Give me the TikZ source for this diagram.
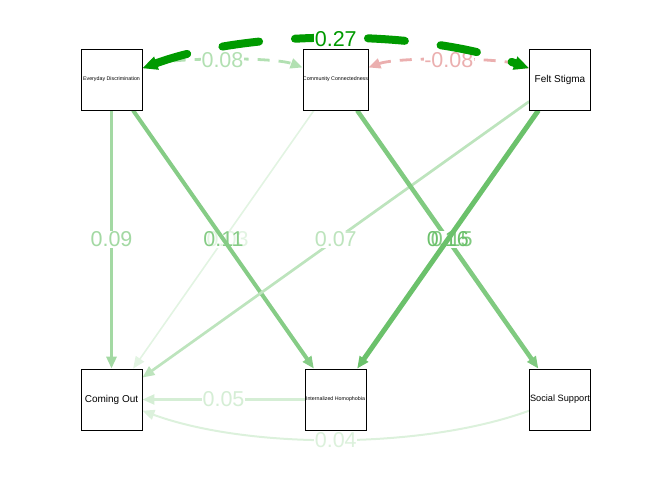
\documentclass[tikz,border=0pt]{standalone}
\usepackage{fontspec}
\setmainfont{Liberation Sans}
\usetikzlibrary{arrows.meta}
\definecolor{c27}{HTML}{009A00}
\definecolor{c16}{HTML}{6BC16B}
\definecolor{c15}{HTML}{80CA80}
\definecolor{c11}{HTML}{86CC86}
\definecolor{c09}{HTML}{A3D9A3}
\definecolor{c08}{HTML}{B2E0B2}
\definecolor{c07}{HTML}{BDE4BD}
\definecolor{c05}{HTML}{D5EED5}
\definecolor{c04}{HTML}{DCF1DC}
\definecolor{c03}{HTML}{E2F4E2}
\definecolor{cneg}{HTML}{EBAFAF}
\begin{document}
\begin{tikzpicture}[x=1bp,y=-1bp,
  box/.style={draw=black, line width=0.8bp, fill=white, minimum size=61bp, inner sep=0pt, align=center},
  smalltxt/.style={font=\fontsize{5.3bp}{6bp}\selectfont},
  bigtxt/.style={font=\fontsize{10bp}{12bp}\selectfont},
  midtxt/.style={font=\fontsize{9.2bp}{11bp}\selectfont},
  edge/.style={-{Triangle[length=12bp,width=10bp]}},
  biedge/.style={{Triangle[length=12bp,width=10bp]}-{Triangle[length=12bp,width=10bp]}},
  lbl/.style={font=\fontsize{21.5bp}{21.5bp}\selectfont, fill=white, inner sep=0.5bp},
  lblnf/.style={font=\fontsize{21.5bp}{21.5bp}\selectfont, inner sep=0.5bp}]
\useasboundingbox (0,0) rectangle (672,480);
% nodes (drawn first for names; redrawn on top later)
\node[box, smalltxt] (ED) at (111.5,79.5) {Everyday Discrimination};
\node[box, smalltxt] (CC) at (335.5,79.5) {Community Connectedness};
\node[box, bigtxt] (FS) at (560,79.5) {Felt Stigma};
\node[box, bigtxt] (CO) at (111.5,399.5) {Coming Out};
\node[box, smalltxt] (IH) at (335.5,399.5) {Internalized Homophobia};
\node[box, midtxt] (SS) at (560,399.5) {Social Support};
% straight edges
\draw[edge, line width=1.6bp, draw=c03] (CC) -- node[lbl, text=c03, xshift=4bp]{0.03} (CO);
\draw[edge, line width=4bp, draw=c11] (ED) -- node[lblnf, text=c11]{0.11} (IH);
\draw[edge, line width=3.3bp, draw=c09] (ED) -- node[lbl, text=c09]{0.09} (CO);
\draw[edge, line width=2.7bp, draw=c07] (FS) -- node[lbl, text=c07]{0.07} (CO);
\draw[edge, line width=4.5bp, draw=c15] (CC) -- node[lbl, text=c15, xshift=4bp]{0.15} (SS);
\draw[edge, line width=5bp, draw=c16] (FS) -- node[lblnf, text=c16]{0.16} (IH);
\draw[edge, line width=2.2bp, draw=c05] (IH) -- node[lbl, text=c05]{0.05} (CO);
\draw[edge, line width=2bp, draw=c04] (SS) to[out=200, in=-20, looseness=0.75] node[lbl, text=c04]{0.04} (CO);
% covariances
\draw[biedge, line width=2.8bp, draw=c08, dash pattern=on 12bp off 9bp] (ED) to[out=20, in=160, looseness=0.5] node[lbl, text=c08]{0.08} (CC);
\draw[biedge, line width=2.8bp, draw=cneg, dash pattern=on 12bp off 9bp] (CC) to[out=20, in=160, looseness=0.5] node[lbl, text=cneg]{-0.08} (FS);
\draw[{Triangle[length=15bp,width=13bp]}-{Triangle[length=15bp,width=13bp]}, line width=8bp, draw=c27, line cap=round, dash pattern=on 37bp off 36bp, dash phase=4bp] (ED) to[out=20, in=160, looseness=0.76] node[lbl, text=c27]{0.27} (FS);
% redraw boxes on top
\node[box, smalltxt] at (111.5,79.5) {Everyday Discrimination};
\node[box, smalltxt] at (335.5,79.5) {Community Connectedness};
\node[box, bigtxt] at (560,79.5) {Felt Stigma};
\node[box, bigtxt] at (111.5,399.5) {Coming Out};
\node[box, smalltxt] at (335.5,399.5) {Internalized Homophobia};
\node[box, midtxt] at (560,399.5) {Social Support};
\end{tikzpicture}
\end{document}
